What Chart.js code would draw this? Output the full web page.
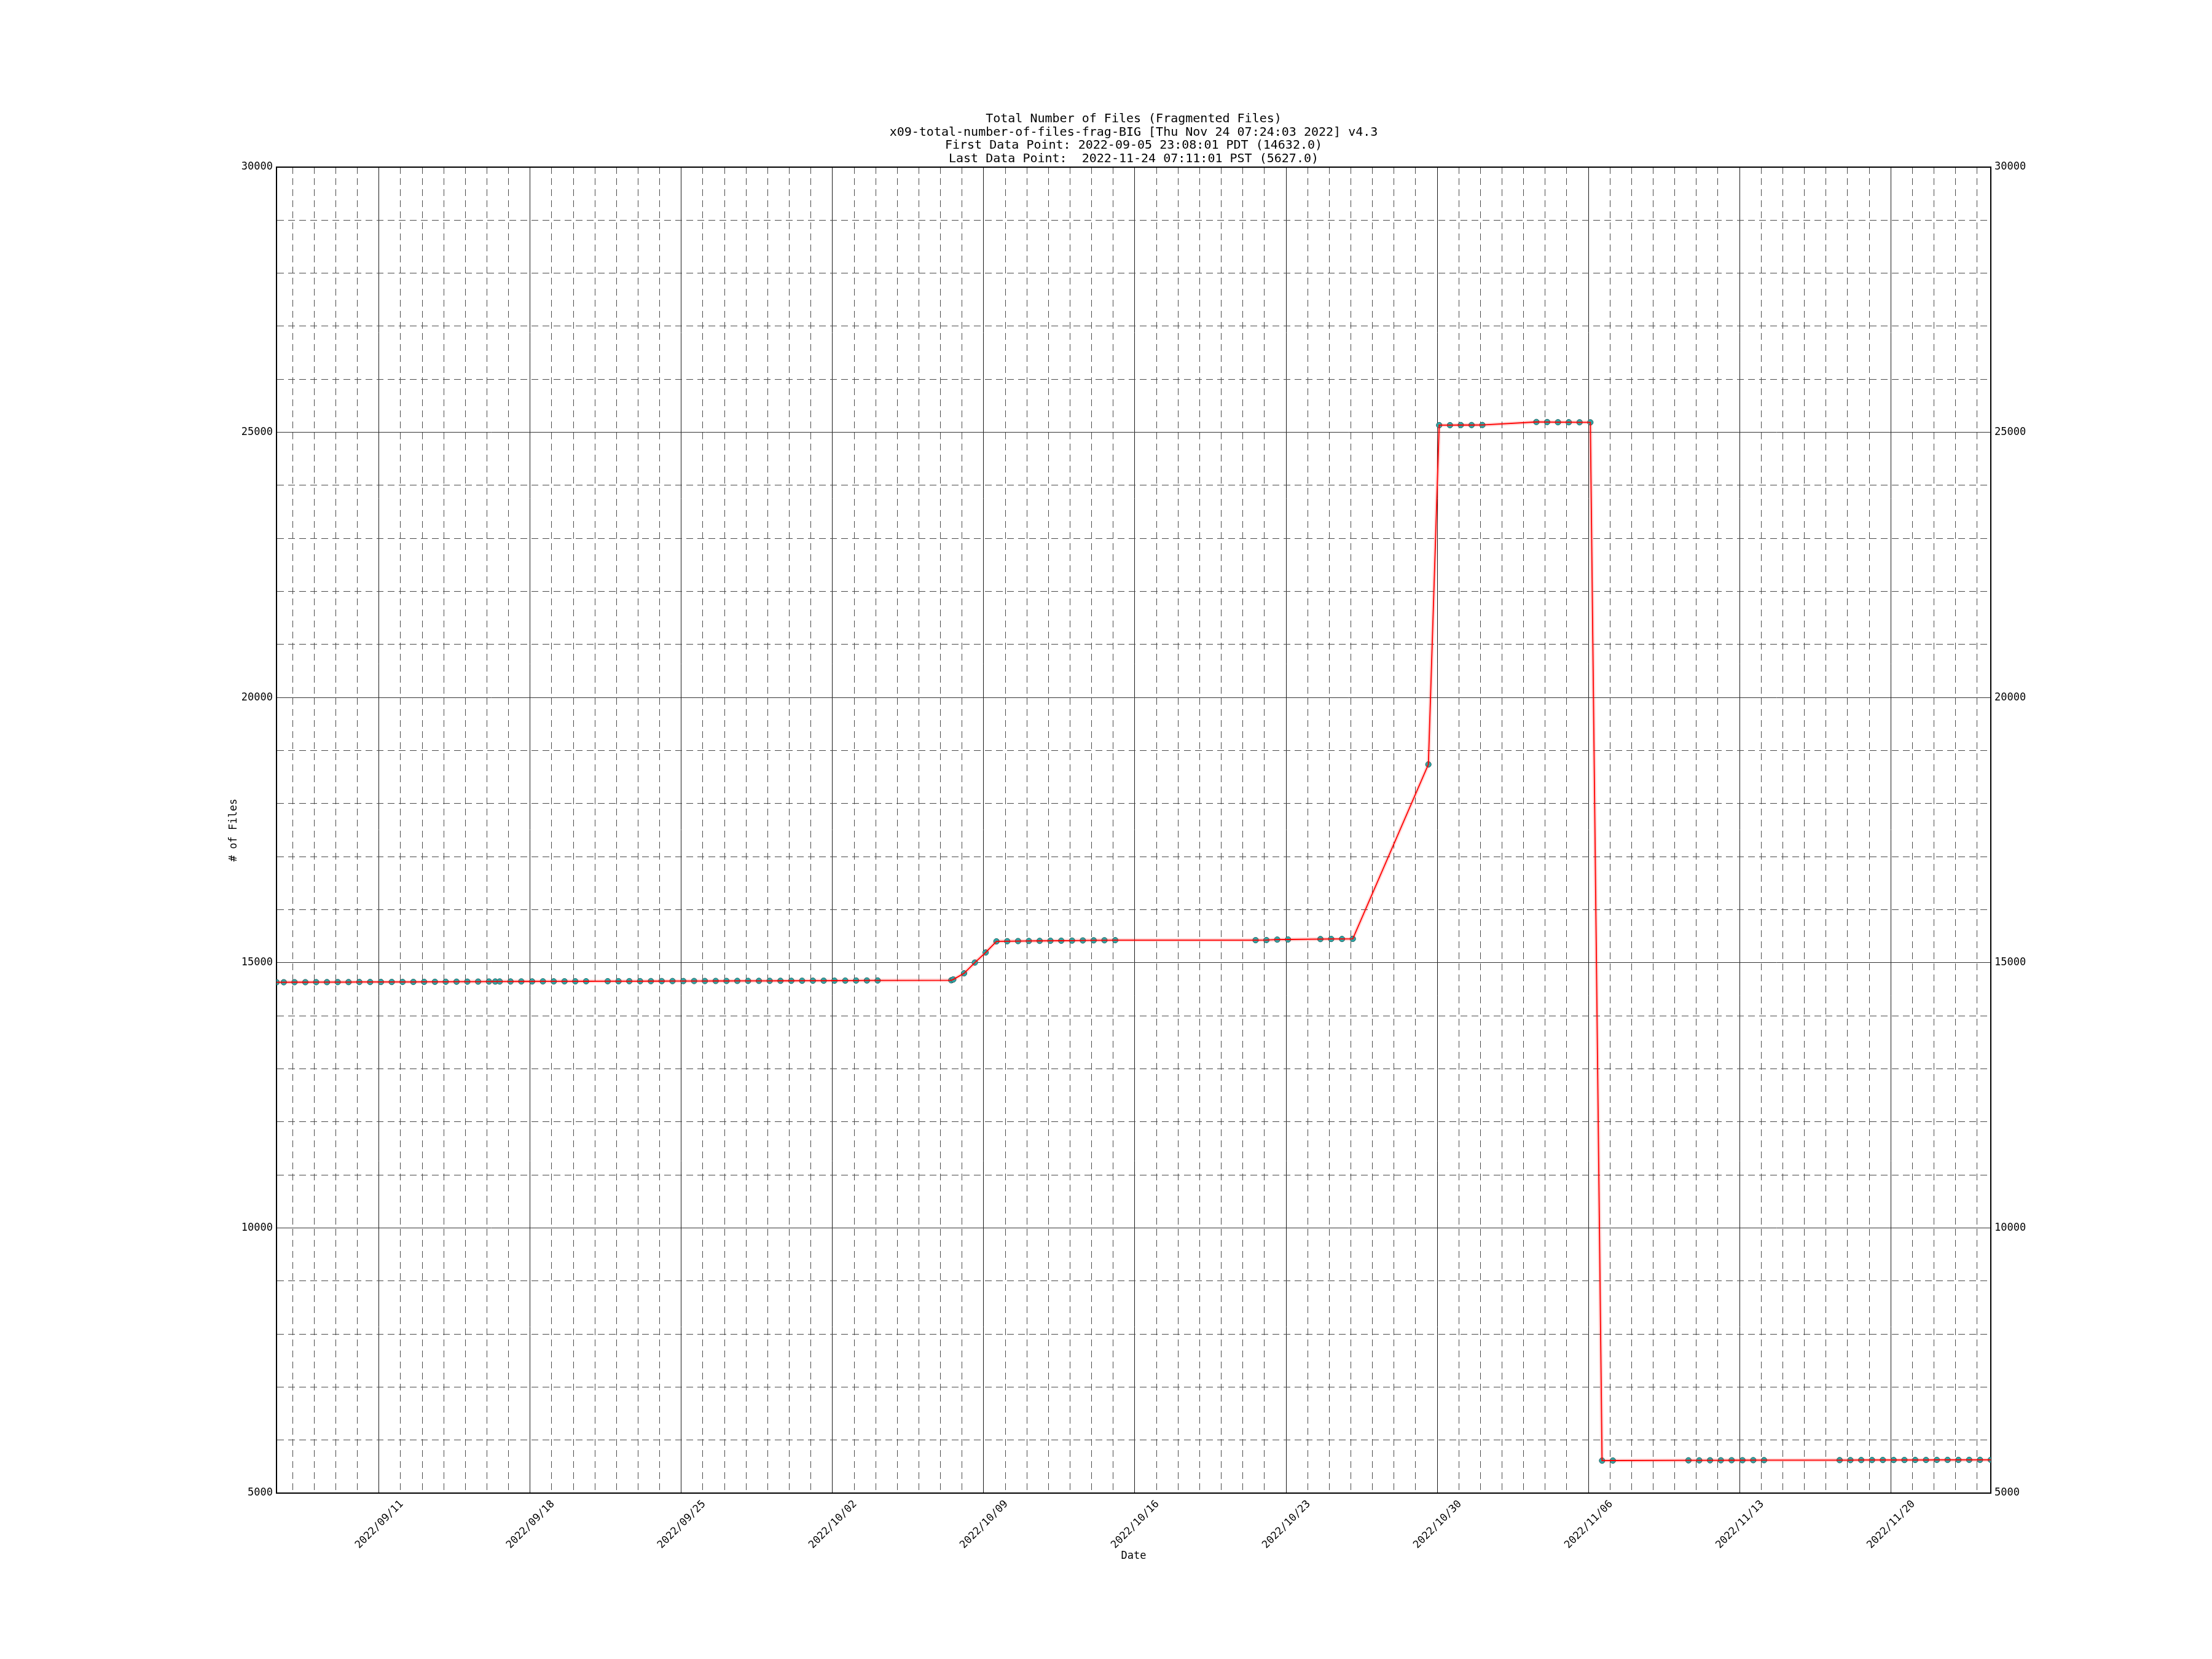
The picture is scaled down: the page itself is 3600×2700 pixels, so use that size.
<!DOCTYPE html>
<html>
<head>
<meta charset="utf-8">
<title>Total Number of Files (Fragmented Files)</title>
<script src="https://cdn.jsdelivr.net/npm/chart.js@4.4.1/dist/chart.umd.min.js"></script>
<style>
  body { margin: 0; background: #fff; }
  canvas { display: block; background: #fff; }
</style>
</head>
<body>
<canvas id="filesChart" width="3600" height="2700"></canvas>
<script>
// Sample times (UTC) and number of files
const sampleTimes = [
  "2022-09-06 06:08", "2022-09-06 14:11", "2022-09-07 02:11", "2022-09-07 14:11", "2022-09-08 02:11",
  "2022-09-08 14:11", "2022-09-09 02:11", "2022-09-09 14:11", "2022-09-10 02:11", "2022-09-10 14:11",
  "2022-09-11 02:11", "2022-09-11 14:11", "2022-09-12 02:11", "2022-09-12 14:11", "2022-09-13 02:11",
  "2022-09-13 14:11", "2022-09-14 02:11", "2022-09-14 14:11", "2022-09-15 02:11", "2022-09-15 14:11",
  "2022-09-16 02:11", "2022-09-16 09:15", "2022-09-16 14:11", "2022-09-17 02:11", "2022-09-17 14:11",
  "2022-09-18 02:11", "2022-09-18 14:11", "2022-09-19 02:11", "2022-09-19 14:11", "2022-09-20 02:11",
  "2022-09-20 14:11",
  "2022-09-21 14:11", "2022-09-22 02:11", "2022-09-22 14:11", "2022-09-23 02:11", "2022-09-23 14:11",
  "2022-09-24 02:11", "2022-09-24 14:11", "2022-09-25 02:11", "2022-09-25 14:11", "2022-09-26 02:11",
  "2022-09-26 14:11", "2022-09-27 02:11", "2022-09-27 14:11", "2022-09-28 02:11", "2022-09-28 14:11",
  "2022-09-29 02:11", "2022-09-29 14:11", "2022-09-30 02:11", "2022-09-30 14:11", "2022-10-01 02:11",
  "2022-10-01 14:11", "2022-10-02 02:11", "2022-10-02 14:11", "2022-10-03 02:11", "2022-10-03 14:11",
  "2022-10-04 02:11",
  "2022-10-07 12:00", "2022-10-07 14:11", "2022-10-08 02:11", "2022-10-08 14:11", "2022-10-09 02:11",
  "2022-10-09 14:11", "2022-10-10 02:11", "2022-10-10 14:11", "2022-10-11 02:11", "2022-10-11 14:11",
  "2022-10-12 02:11", "2022-10-12 14:11", "2022-10-13 02:11", "2022-10-13 14:11", "2022-10-14 02:11",
  "2022-10-14 14:11", "2022-10-15 02:11",
  "2022-10-21 14:11", "2022-10-22 02:11", "2022-10-22 14:11", "2022-10-23 02:11",
  "2022-10-24 14:11", "2022-10-25 02:11", "2022-10-25 14:11", "2022-10-26 02:11",
  "2022-10-29 14:11",
  "2022-10-30 02:11", "2022-10-30 14:11", "2022-10-31 02:11", "2022-10-31 14:11", "2022-11-01 02:11",
  "2022-11-03 14:11", "2022-11-04 02:11", "2022-11-04 14:11", "2022-11-05 02:11", "2022-11-05 14:11",
  "2022-11-06 02:11",
  "2022-11-06 15:11", "2022-11-07 03:11",
  "2022-11-10 15:11", "2022-11-11 03:11", "2022-11-11 15:11", "2022-11-12 03:11", "2022-11-12 15:11",
  "2022-11-13 03:11", "2022-11-13 15:11", "2022-11-14 03:11",
  "2022-11-17 15:11", "2022-11-18 03:11", "2022-11-18 15:11", "2022-11-19 03:11", "2022-11-19 15:11",
  "2022-11-20 03:11", "2022-11-20 15:11", "2022-11-21 03:11", "2022-11-21 15:11", "2022-11-22 03:11",
  "2022-11-22 15:11", "2022-11-23 03:11", "2022-11-23 15:11", "2022-11-24 03:11", "2022-11-24 15:11",
];

const fileCounts = [
  14632, 14632, 14633, 14633, 14634,
  14634, 14635, 14635, 14636, 14636,
  14637, 14637, 14638, 14638, 14639,
  14640, 14641, 14642, 14643, 14644,
  14645, 14645, 14646, 14646, 14647,
  14647, 14648, 14648, 14649, 14649,
  14650,
  14651, 14651, 14652, 14652, 14653,
  14653, 14654, 14654, 14655, 14655,
  14656, 14656, 14657, 14657, 14658,
  14658, 14659, 14659, 14660, 14661,
  14661, 14662, 14663, 14664, 14665,
  14665,
  14669, 14684, 14800, 15003, 15193,
  15402, 15405, 15408, 15410, 15412,
  15414, 15415, 15417, 15420, 15422,
  15423, 15425,
  15425, 15427, 15436, 15438,
  15446, 15448, 15448, 15450,
  18738,
  25135, 25135, 25137, 25137, 25138,
  25195, 25194, 25190, 25190, 25189,
  25188,
  5612, 5614,
  5618, 5618, 5619, 5619, 5620,
  5620, 5621, 5621,
  5622, 5622, 5623, 5623, 5624,
  5624, 5624, 5625, 5625, 5626,
  5626, 5626, 5627, 5627, 5627,
];

// Weekly date labels on the x axis, and the y axis range
const weekLabels = [
  "2022/09/11", "2022/09/18", "2022/09/25", "2022/10/02", "2022/10/09", "2022/10/16",
  "2022/10/23", "2022/10/30", "2022/11/06", "2022/11/13", "2022/11/20",
];
const yTickLabels = [5000, 10000, 15000, 20000, 25000, 30000];

const titleLines = [
  "Total Number of Files (Fragmented Files)",
  "x09-total-number-of-files-frag-BIG [Thu Nov 24 07:24:03 2022] v4.3",
  "First Data Point: 2022-09-05 23:08:01 PDT (14632.0)",
  "Last Data Point:  2022-11-24 07:11:01 PST (5627.0)",
];

const DAY = 86400000;
const MONO = "'DejaVu Sans Mono', 'Liberation Mono', monospace";

const toMs = (s) => Date.parse(s.replace(" ", "T") + ":00Z");
const points = sampleTimes.map((t, i) => ({ x: toMs(t), y: fileCounts[i] }));
const xMin = points[0].x;
const xMax = points[points.length - 1].x;

const fmtDate = (ms) => {
  const d = new Date(ms);
  const mm = String(d.getUTCMonth() + 1).padStart(2, "0");
  const dd = String(d.getUTCDate()).padStart(2, "0");
  return d.getUTCFullYear() + "/" + mm + "/" + dd;
};
const isWeek = (ms) => weekLabels.includes(fmtDate(ms));

// one grid line per day (midnight UTC)
const dayTicks = [];
for (let t = Math.ceil(xMin / DAY) * DAY; t <= xMax; t += DAY) dayTicks.push(t);

const yMin = yTickLabels[0];
const yMax = yTickLabels[yTickLabels.length - 1];

const ctx = document.getElementById("filesChart").getContext("2d");
new Chart(ctx, {
  type: "line",
  data: {
    datasets: [
      {
        label: "line",
        data: points,
        borderColor: "#ff0000",
        borderWidth: 1.8,
        pointRadius: 0,
        tension: 0,
        clip: 0,
      },
      {
        label: "halo",
        data: points,
        borderColor: "rgba(255, 0, 0, 0.16)",
        borderWidth: 6,
        pointRadius: 0,
        tension: 0,
        clip: 0,
      },
      {
        label: "points",
        data: points,
        showLine: false,
        pointRadius: 4.6,
        pointBackgroundColor: "#17bcbc",
        pointBorderColor: "#305858",
        pointBorderWidth: 1,
        clip: 0,
      },
    ],
  },
  options: {
    responsive: false,
    devicePixelRatio: 1,
    animation: false,
    events: [],
    layout: { padding: 0 },
    plugins: {
      legend: { display: false },
      tooltip: { enabled: false },
      title: {
        display: true,
        fullSize: false,
        text: titleLines,
        color: "#000",
        font: { family: MONO, size: 20, weight: "normal", lineHeight: 1.08 },
        padding: { top: 183, bottom: 2.6 },
      },
    },
    scales: {
      x: {
        type: "linear",
        position: "bottom",
        min: xMin,
        max: xMax,
        afterBuildTicks: (scale) => {
          scale.ticks = dayTicks.map((v) => ({ value: v }));
        },
        afterFit: (scale) => {
          scale.height = 270;
        },
        ticks: {
          autoSkip: false,
          minRotation: 45,
          maxRotation: 45,
          padding: 8,
          labelOffset: 37,
          color: "#000",
          font: { family: MONO, size: 17 },
          callback: (v) => (isWeek(v) ? fmtDate(v) : ""),
        },
        grid: {
          drawTicks: false,
          lineWidth: 1,
          color: (c) => (c.tick && isWeek(c.tick.value) ? "#1a1a1a" : "#4a4a4a"),
        },
        border: {
          color: "#000",
          width: 2,
          dash: (c) => (c.tick && !isWeek(c.tick.value) ? [11, 7] : []),
        },
        title: {
          display: true,
          text: "Date",
          color: "#000",
          font: { family: MONO, size: 17 },
          padding: { top: 0, bottom: 157 },
        },
      },
      xTop: {
        type: "linear",
        position: "top",
        min: xMin,
        max: xMax,
        afterFit: (scale) => {
          scale.height = 0;
        },
        ticks: { display: false },
        grid: { drawOnChartArea: false, drawTicks: false },
        border: { color: "#000", width: 2 },
      },
      y: {
        type: "linear",
        position: "left",
        min: yMin,
        max: yMax,
        afterFit: (scale) => {
          scale.width = 450;
        },
        ticks: {
          stepSize: 1000,
          autoSkip: false,
          padding: 6,
          color: "#000",
          font: { family: MONO, size: 17 },
          callback: (v) => (yTickLabels.includes(v) ? String(v) : ""),
        },
        grid: {
          drawTicks: false,
          lineWidth: 1,
          color: (c) => (c.tick && yTickLabels.includes(c.tick.value) ? "#333" : "#4a4a4a"),
        },
        border: {
          color: "#000",
          width: 2,
          dash: (c) => (c.tick && !yTickLabels.includes(c.tick.value) ? [11, 7] : []),
        },
        title: {
          display: true,
          text: "# of Files",
          color: "#000",
          font: { family: MONO, size: 17 },
          padding: { top: 370, bottom: 0 },
        },
      },
      yRight: {
        type: "linear",
        position: "right",
        min: yMin,
        max: yMax,
        afterFit: (scale) => {
          scale.width = 360;
        },
        ticks: {
          stepSize: 5000,
          padding: 6,
          color: "#000",
          font: { family: MONO, size: 17 },
          callback: (v) => (yTickLabels.includes(v) ? String(v) : ""),
        },
        grid: { drawOnChartArea: false, drawTicks: false },
        border: { color: "#000", width: 2 },
      },
    },
  },
});
</script>
</body>
</html>
